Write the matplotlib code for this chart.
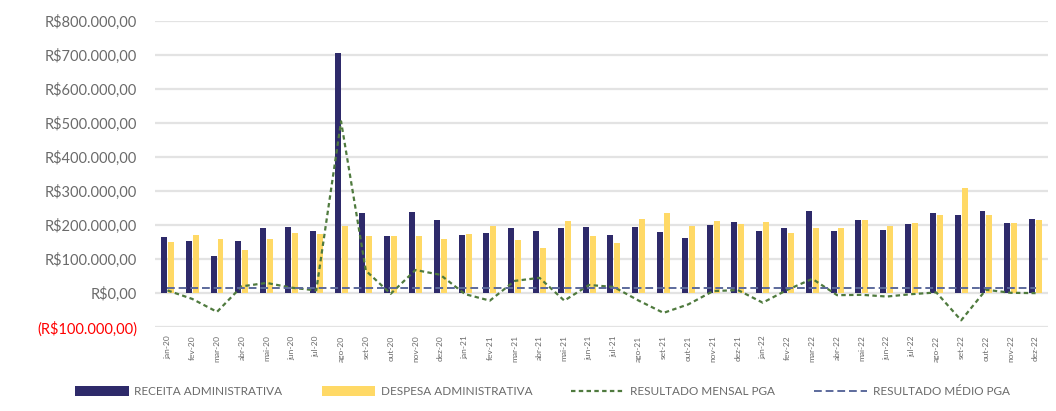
import matplotlib
matplotlib.use("Agg")
import matplotlib.pyplot as plt
from matplotlib.ticker import FuncFormatter, MultipleLocator
import numpy as np

plt.rcParams['font.family'] = ['Lato', 'DejaVu Sans']

# valores em milhares de reais
meses_abrev = ['jan', 'fev', 'mar', 'abr', 'mai', 'jun', 'jul', 'ago', 'set', 'out', 'nov', 'dez']
anos = ['20', '21', '22']
rotulos = [m + '-' + a for a in anos for m in meses_abrev]

receita = [165, 153, 109, 153, 190, 195, 184, 707, 236, 168, 239, 214,
           171, 177, 192, 184, 190, 195, 170, 195, 179, 161, 201, 210,
           183, 190, 240, 184, 214, 187, 204, 235, 229, 241, 207, 217]
despesa = [150, 170, 160, 126, 158, 177, 173, 197, 168, 168, 168, 158,
           173, 197, 155, 133, 212, 168, 148, 217, 236, 197, 212, 202,
           210, 177, 192, 192, 214, 197, 207, 231, 308, 231, 207, 215]
resultado_mensal = [8, -17, -55, 20, 30, 16, 8, 505, 66, -2, 68, 54,
                    -3, -22, 36, 45, -22, 24, 18, -22, -58, -33, 6, 9,
                    -28, 10, 42, -6, -5, -10, -3, 2, -80, 10, 1, 0]
resultado_medio = 16

x = np.arange(len(rotulos))
mil = 1000.0

fig = plt.figure(figsize=(10.56, 4.11), dpi=100)
ax = fig.add_axes([0.1468, 0.204, 0.8456, 0.745])

cor_receita = '#2E2A6A'
cor_despesa = '#FFD966'
cor_mensal = '#4F7A3E'
cor_medio = '#5C6A9C'
cor_texto = '#6A6A6A'

larg = 0.24
b1 = ax.bar(x - 0.14, np.array(receita) * mil, width=larg, color=cor_receita,
            label='RECEITA ADMINISTRATIVA', zorder=2)
b2 = ax.bar(x + 0.14, np.array(despesa) * mil, width=larg, color=cor_despesa,
            label='DESPESA ADMINISTRATIVA', zorder=2)
l1, = ax.plot(x, np.array(resultado_mensal) * mil, color=cor_mensal, lw=1.6,
              linestyle=(0, (2, 1.5)), label='RESULTADO MENSAL PGA', zorder=3)
l2, = ax.plot(x, np.full(len(x), resultado_medio * mil), color=cor_medio, lw=1.4,
              linestyle=(0, (4, 2)), label='RESULTADO MÉDIO PGA', zorder=3)

ax.set_xlim(-0.5, len(x) - 0.5)
ax.set_ylim(-100000, 800000)
ax.yaxis.set_major_locator(MultipleLocator(100000))
ax.grid(axis='y', color='#E3E3E3', lw=1.6, zorder=0)
ax.set_axisbelow(True)
for s in ax.spines.values():
    s.set_visible(False)


def moeda(v, pos=None):
    txt = f"{abs(v):,.2f}".replace(',', '#').replace('.', ',').replace('#', '.')
    if v < 0:
        return '(R$' + txt + ')'
    return 'R$' + txt


ax.yaxis.set_major_formatter(FuncFormatter(moeda))
ax.tick_params(axis='y', length=0, pad=13, labelsize=10.5, labelcolor=cor_texto)
for t in ax.get_yticklabels():
    if t.get_position()[1] < 0:
        t.set_color('#FF0000')

ax.set_xticks(x)
ax.set_xticklabels(rotulos, rotation=90, fontsize=6, color=cor_texto)
ax.tick_params(axis='x', length=0, pad=6)

fig.legend([b1, b2, l1, l2],
           ['RECEITA ADMINISTRATIVA', 'DESPESA ADMINISTRATIVA',
            'RESULTADO MENSAL PGA', 'RESULTADO MÉDIO PGA'],
           loc='center', bbox_to_anchor=(0.514, 0.047), ncol=4, frameon=False,
           fontsize=8.5, handlelength=4.5, handleheight=0.9, columnspacing=3.3,
           handletextpad=0.5, labelcolor=cor_texto)

fig.savefig('out.png', dpi=100)
